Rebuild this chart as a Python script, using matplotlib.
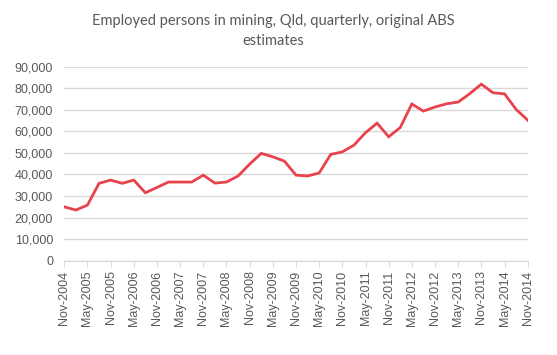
import matplotlib
matplotlib.use("Agg")
import matplotlib.pyplot as plt
import numpy as np

# quarterly labels Nov-2004 .. Nov-2014
quarters = []
for y in range(2004, 2015):
    for m in ["Feb", "May", "Aug", "Nov"]:
        quarters.append(f"{m}-{y}")
quarters = quarters[quarters.index("Nov-2004"):quarters.index("Nov-2014") + 1]

employed = [25000, 23500, 25800, 35900, 37400, 35900, 37400, 31500, 34000, 36500,
            36500, 36500, 39700, 36000, 36500, 39300, 44800, 49800, 48200, 46200,
            39700, 39300, 40700, 49300, 50500, 53600, 59400, 63800, 57500, 61800,
            72700, 69400, 71300, 72800, 73600, 77500, 81900, 77900, 77400, 70200,
            65200]

grey = "#595959"
fig = plt.figure(figsize=(5.57, 3.55), dpi=100)
ax = fig.add_axes([0.1154, 0.2656, 0.8320, 0.5465])

x = np.arange(len(quarters))
ax.plot(x, employed, color="#E8434D", linewidth=2, solid_joinstyle="miter")

ax.set_xlim(0, len(quarters) - 1)
ax.set_ylim(0, 90000)
ax.set_yticks(range(0, 90001, 10000))
ax.set_yticklabels([f"{v:,}" for v in range(0, 90001, 10000)],
                   fontsize=9, color=grey, family="Liberation Sans")
ax.set_xticks(x[::2])
ax.set_xticklabels(quarters[::2], rotation=90, fontsize=9, color=grey,
                   family="Liberation Sans")

ax.grid(axis="y", color="#d9d9d9", linewidth=1)
ax.set_axisbelow(True)
for s in ["top", "right", "left"]:
    ax.spines[s].set_visible(False)
ax.spines["bottom"].set_color("#d9d9d9")
ax.tick_params(axis="y", length=0, pad=8)
ax.tick_params(axis="x", length=4, color="#d9d9d9", pad=3)

fig.text(0.49, 0.912, "Employed persons in mining, Qld, quarterly, original ABS\nestimates",
         ha="center", va="center", fontsize=10.5, color=grey, family="Lato",
         linespacing=1.5)

fig.savefig("out.png", dpi=100)
